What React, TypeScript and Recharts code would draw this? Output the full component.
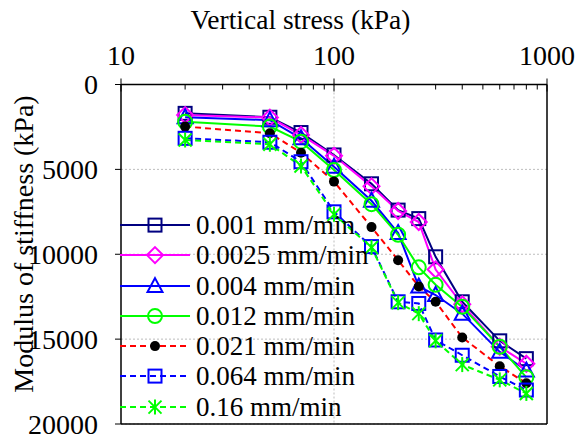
import React from "react";
import { LineChart, Line, XAxis, YAxis, CartesianGrid, ReferenceLine } from "recharts";

// vertical stress (kPa) shared by all runs
const STRESS = [20, 50, 70, 100, 150, 200, 250, 300, 400, 600, 800];

// modulus of stiffness (kPa) per loading rate
const RATE_0001 = [1700, 1930, 2830, 4150, 5850, 7400, 7900, 10150, 12800, 15100, 16150];
const RATE_00025 = [1800, 1950, 2970, 4200, 6000, 7450, 8100, 10900, 12950, 15450, 16450];
const RATE_0004 = [1930, 2100, 3170, 4850, 6850, 8750, 11900, 12400, 13500, 15750, 16850];
const RATE_0012 = [2200, 2480, 3370, 5040, 7050, 8850, 10770, 11800, 13100, 15450, 17250];
const RATE_0021 = [2480, 2870, 4020, 5720, 8400, 10350, 11900, 12800, 14900, 16600, 17600];
const RATE_0064 = [3170, 3400, 4550, 7500, 9550, 12800, 12900, 15050, 15950, 17200, 18000];
const RATE_016 = [3270, 3520, 4800, 7650, 9600, 12850, 13500, 15100, 16500, 17400, 18200];

const X_TICKS = [10, 20, 30, 40, 50, 60, 70, 80, 90, 100, 200, 300, 400, 500, 600, 700, 800, 900, 1000];
const X_LABELS = [10, 100, 1000];
const Y_TICKS = [0, 5000, 10000, 15000, 20000];

const FONT = "'Liberation Serif', 'Times New Roman', serif";

type Shape = "square" | "diamond" | "triangle" | "circle" | "dot" | "star";

const SERIES: { key: string; name: string; values: number[]; color: string; dashed: boolean; shape: Shape; markColor: string }[] = [
  { key: "r1", name: "0.001 mm/min", values: RATE_0001, color: "#000080", dashed: false, shape: "square", markColor: "#000080" },
  { key: "r2", name: "0.0025 mm/min", values: RATE_00025, color: "#ff00ff", dashed: false, shape: "diamond", markColor: "#ff00ff" },
  { key: "r3", name: "0.004 mm/min", values: RATE_0004, color: "#0000ff", dashed: false, shape: "triangle", markColor: "#0000ff" },
  { key: "r4", name: "0.012 mm/min", values: RATE_0012, color: "#00ff00", dashed: false, shape: "circle", markColor: "#00ff00" },
  { key: "r5", name: "0.021 mm/min", values: RATE_0021, color: "#ff0000", dashed: true, shape: "dot", markColor: "#000000" },
  { key: "r6", name: "0.064 mm/min", values: RATE_0064, color: "#0000ff", dashed: true, shape: "square", markColor: "#0000ff" },
  { key: "r7", name: "0.16 mm/min", values: RATE_016, color: "#00ff00", dashed: true, shape: "star", markColor: "#00ff00" },
];

const data = STRESS.map((s, i) => {
  const row: Record<string, number> = { stress: s };
  SERIES.forEach((sr) => {
    row[sr.key] = sr.values[i];
  });
  return row;
});

function Marker({ shape, cx, cy, color }: { shape: Shape; cx: number; cy: number; color: string }) {
  switch (shape) {
    case "square":
      return <rect x={cx - 6.5} y={cy - 6.5} width={13} height={13} fill="none" stroke={color} strokeWidth={2} />;
    case "diamond":
      return (
        <polygon
          points={`${cx},${cy - 8} ${cx + 8},${cy} ${cx},${cy + 8} ${cx - 8},${cy}`}
          fill="none"
          stroke={color}
          strokeWidth={2}
        />
      );
    case "triangle":
      return (
        <polygon
          points={`${cx},${cy - 8} ${cx + 7.5},${cy + 6} ${cx - 7.5},${cy + 6}`}
          fill="none"
          stroke={color}
          strokeWidth={2}
        />
      );
    case "circle":
      return <circle cx={cx} cy={cy} r={7} fill="none" stroke={color} strokeWidth={2} />;
    case "dot":
      return <circle cx={cx} cy={cy} r={5} fill={color} stroke="none" />;
    case "star":
      return (
        <g stroke={color} strokeWidth={2}>
          <line x1={cx} y1={cy - 7.5} x2={cx} y2={cy + 7.5} />
          <line x1={cx - 6.5} y1={cy - 6.5} x2={cx + 6.5} y2={cy + 6.5} />
          <line x1={cx + 6.5} y1={cy - 6.5} x2={cx - 6.5} y2={cy + 6.5} />
        </g>
      );
  }
  return null;
}

function XTick(props: any) {
  const { x, y, payload } = props;
  const major = X_LABELS.includes(payload.value);
  return (
    <g>
      <line x1={x} x2={x} y1={major ? y - 6 : y} y2={y + (major ? 7 : 5)} stroke="#000" strokeWidth={1} />
      {major && (
        <text x={x} y={y - 20} textAnchor="middle" fontSize={28} fontFamily={FONT} fill="#000">
          {payload.value}
        </text>
      )}
    </g>
  );
}

function YTick(props: any) {
  const { x, y, payload } = props;
  return (
    <g>
      <line x1={x - 6} x2={x} y1={y} y2={y} stroke="#000" strokeWidth={1} />
      <text x={x - 23} y={y + 9.5} textAnchor="end" fontSize={28} fontFamily={FONT} fill="#000">
        {payload.value}
      </text>
    </g>
  );
}

function XTitle() {
  return (
    <text x={300.5} y={29} textAnchor="middle" fontSize={27.5} fontFamily={FONT} fill="#000">
      Vertical stress (kPa)
    </text>
  );
}

function YTitle() {
  return (
    <text x={33} y={244} transform="rotate(-90 33 244)" textAnchor="middle" fontSize={28} fontFamily={FONT} fill="#000">
      Modulus of stiffness (kPa)
    </text>
  );
}

function LegendBox() {
  return (
    <div style={{ position: "absolute", left: 120, top: 210, fontFamily: FONT, fontSize: 27 }}>
      {SERIES.map((s) => (
        <div key={s.key} style={{ position: "relative", height: 30.25, width: 260 }}>
          <svg width={76} height={30.25} style={{ position: "absolute", left: 0, top: 0 }}>
            <line
              x1={0}
              x2={70}
              y1={15.1}
              y2={15.1}
              stroke={s.color}
              strokeWidth={2}
              strokeDasharray={s.dashed ? "6 4" : undefined}
            />
            <Marker shape={s.shape} cx={35} cy={15.1} color={s.markColor} />
          </svg>
          <span style={{ position: "absolute", left: 76, top: 0, lineHeight: "30.25px", whiteSpace: "nowrap" }}>
            {s.name}
          </span>
        </div>
      ))}
    </div>
  );
}

export default function App() {
  // the wrapper undoes the body margin so the chart can start at the top-left corner of the page
  return (
    <div style={{ position: "relative", width: 575, height: 438, margin: "-8px 0 0 -8px" }}>
      <LineChart width={575} height={438} data={data} margin={{ top: 8.5, right: 28, bottom: 14, left: 8 }}>
        <CartesianGrid vertical={false} stroke="#bdbdbd" strokeDasharray="2 2" />
        <ReferenceLine x={100} stroke="#bdbdbd" strokeDasharray="2 2" />
        <XAxis
          dataKey="stress"
          type="number"
          scale="log"
          domain={[10, 1000]}
          allowDataOverflow
          orientation="top"
          height={76}
          ticks={X_TICKS}
          interval={0}
          tickSize={0}
          tickMargin={0}
          tickLine={false}
          tick={<XTick />}
          axisLine={{ stroke: "#000", strokeWidth: 1.5 }}
          label={<XTitle />}
        />
        <YAxis
          type="number"
          reversed
          domain={[0, 20000]}
          ticks={Y_TICKS}
          interval={0}
          width={113}
          tickSize={0}
          tickMargin={0}
          tickLine={false}
          tick={<YTick />}
          axisLine={{ stroke: "#000", strokeWidth: 1.5 }}
          label={<YTitle />}
        />
        <ReferenceLine x={1000} stroke="#000" strokeWidth={1.5} />
        <ReferenceLine y={20000} stroke="#000" strokeWidth={1.5} />
        {SERIES.map((s) => (
          <Line
            key={s.key}
            dataKey={s.key}
            name={s.name}
            type="linear"
            stroke={s.color}
            strokeWidth={2}
            strokeDasharray={s.dashed ? "6 4" : undefined}
            isAnimationActive={false}
            dot={(p: any) => <Marker key={`${s.key}-${p.index}`} shape={s.shape} cx={p.cx} cy={p.cy} color={s.markColor} />}
            activeDot={false}
          />
        ))}
      </LineChart>
      <LegendBox />
    </div>
  );
}
